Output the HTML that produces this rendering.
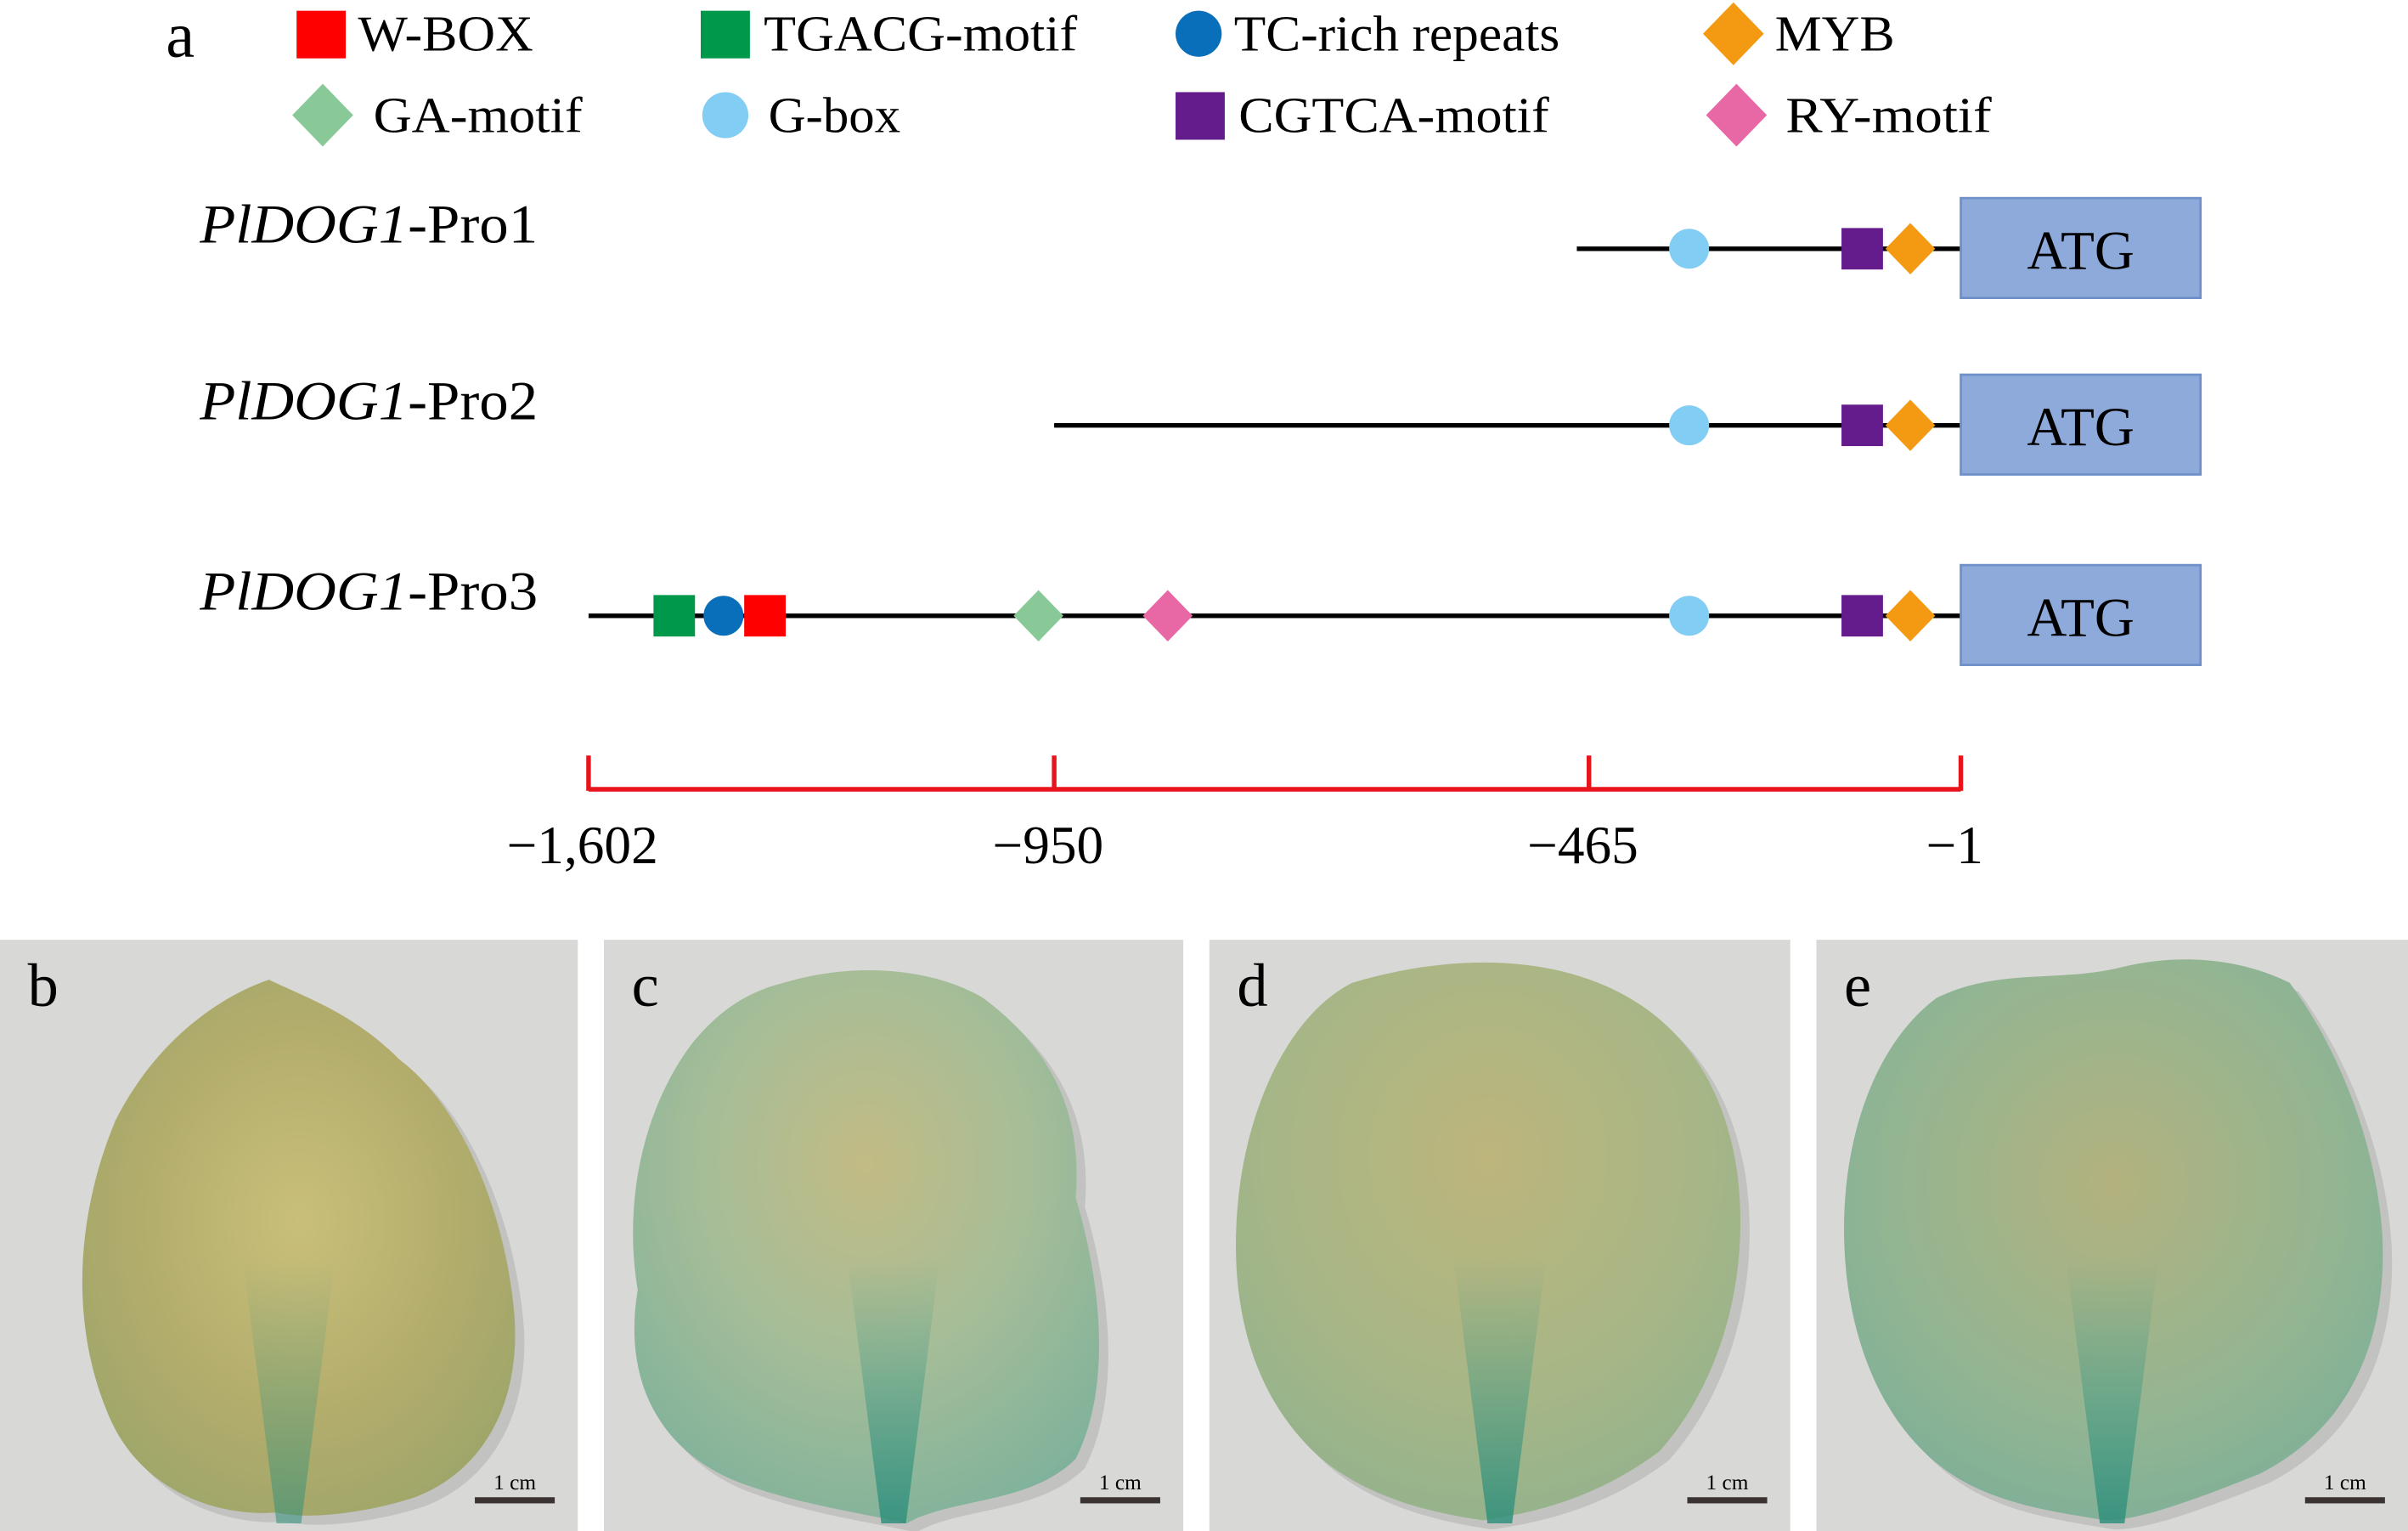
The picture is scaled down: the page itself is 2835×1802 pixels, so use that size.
<!DOCTYPE html>
<html><head><meta charset="utf-8"><style>
html,body{margin:0;padding:0;background:#fff}
svg{display:block}
text{font-family:"Liberation Serif",serif;fill:#000}
</style></head><body>
<svg id="fig" width="2835" height="1802" viewBox="0 0 1567 997" preserveAspectRatio="none">
<defs>
<radialGradient id="gb" cx="0.5" cy="0.45" r="0.6"><stop offset="0" stop-color="#c9bf7a"/><stop offset="0.6" stop-color="#b3ad6c"/><stop offset="1" stop-color="#9fa66a"/></radialGradient>
<radialGradient id="gc" cx="0.5" cy="0.35" r="0.7"><stop offset="0" stop-color="#c2bb84"/><stop offset="0.5" stop-color="#a6bd98"/><stop offset="1" stop-color="#7fb29b"/></radialGradient>
<radialGradient id="gd" cx="0.5" cy="0.35" r="0.7"><stop offset="0" stop-color="#bdb57c"/><stop offset="0.6" stop-color="#a7b686"/><stop offset="1" stop-color="#92b28e"/></radialGradient>
<radialGradient id="ge" cx="0.5" cy="0.4" r="0.7"><stop offset="0" stop-color="#b3b27e"/><stop offset="0.6" stop-color="#93b592"/><stop offset="1" stop-color="#78ae9a"/></radialGradient>
<linearGradient id="vein" x1="0" y1="0" x2="0" y2="1"><stop offset="0" stop-color="#3e9a86" stop-opacity="0"/><stop offset="1" stop-color="#2a8d7a" stop-opacity="0.9"/></linearGradient>
</defs>
<g id="chart"></g>
<g id="photos"></g>
</svg>
<script>
// ---- data ----
const axisTicks = [-1602, -950, -465, -1];
const tickLabels = ["\u22121,602", "\u2212950", "\u2212465", "\u22121"];
const promoterNames = ["Pro1", "Pro2", "Pro3"];
const promoterStarts = [-476, -950, -1602];
const motifTypes = ["G-box", "CGTCA-motif", "MYB", "TGACG-motif", "TC-rich repeats", "W-BOX", "GA-motif", "RY-motif"];
const pro1Motifs = [-340, -124, -64];
const pro2Motifs = [-340, -124, -64];
const pro3Motifs = [-340, -124, -64, -1482, -1413, -1355, -972, -847];
const legendNames = ["W-BOX","TGACG-motif","TC-rich repeats","MYB","GA-motif","G-box","CGTCA-motif","RY-motif"];

const NS = "http://www.w3.org/2000/svg";
const tickPx = [383, 686, 1034, 1276];
function xScale(bp){
  for(let i=0;i<axisTicks.length-1;i++){
    const a=axisTicks[i], b=axisTicks[i+1];
    if(bp<=b || i===axisTicks.length-2){
      return tickPx[i]+(bp-a)/(b-a)*(tickPx[i+1]-tickPx[i]);
    }
  }
}
const style = {
  "W-BOX":{shape:"sq",c:"#ff0000"},
  "TGACG-motif":{shape:"sq",c:"#00984a"},
  "TC-rich repeats":{shape:"ci",c:"#0a6fba"},
  "MYB":{shape:"di",c:"#f39a12"},
  "GA-motif":{shape:"di",c:"#88c997"},
  "G-box":{shape:"ci",c:"#82cdf3"},
  "CGTCA-motif":{shape:"sq",c:"#641c8c"},
  "RY-motif":{shape:"di",c:"#e867a5"}
};
function mk(tag, attrs, parent){
  const e=document.createElementNS(NS,tag);
  for(const k in attrs) e.setAttribute(k,attrs[k]);
  parent.appendChild(e); return e;
}
function marker(type, cx, cy, parent, s){
  const st=style[type]; let e;
  if(st.shape==="sq") e=mk("rect",{x:cx-s/2,y:cy-s/2,width:s,height:s,fill:st.c},parent);
  else if(st.shape==="ci") e=mk("ellipse",{cx:cx,cy:cy,rx:s/2,ry:s/2,fill:st.c},parent);
  else e=mk("polygon",{points:`${cx},${cy-s*0.62} ${cx+s*0.6},${cy} ${cx},${cy+s*0.62} ${cx-s*0.6},${cy}`,fill:st.c},parent);
  return e;
}
const chart=document.getElementById("chart");
const lab=mk("text",{x:108,y:37,"font-size":42},chart); lab.textContent="a";



// legend
const legPos=[[193,22],[456,22],[765,22],[1112,22],[193,75],[456,75],[765,75],[1112,75]];
const legWidths=[114,204,212,78,136,86,202,134];
legendNames.forEach((n,i)=>{
  const g=mk("g",{},chart);
  
  
  const [lx,ly]=legPos[i];
  const st=style[n];
  let cx = lx+16, tx = lx+40;
  if(i===4){cx=210; tx=243;}
  if(i===5){cx=472; tx=500;}
  if(i===7){cx=1130; tx=1162;}
  if(i===3){cx=1128; tx=1155;}
  if(i===2){cx=780; tx=803;}
  if(i===6){cx=781; tx=806;}
  if(i===1){tx=497;}
  if(st.shape==="sq") mk("rect",{x:cx-16,y:ly-15,width:32,height:31,fill:st.c},g);
  else marker(n,cx,ly,g,st.shape==="ci"?30:33);
  const t=mk("text",{x:tx,y:ly+11,"font-size":33,textLength:legWidths[i],lengthAdjust:"spacingAndGlyphs"},g); t.textContent=n;
});

// promoter rows
const rowsY=[162,277,401];
const motifLists=[pro1Motifs,pro2Motifs,pro3Motifs];
promoterNames.forEach((p,r)=>{
  const g=mk("g",{},chart);
  
  
  const y=rowsY[r];
  const t=mk("text",{x:130,y:y-4,"font-size":36,textLength:220,lengthAdjust:"spacingAndGlyphs"},g);
  const it=mk("tspan",{"font-style":"italic"},t); it.textContent="PlDOG1";
  const rt=mk("tspan",{},t); rt.textContent="-"+p;
  mk("line",{x1:xScale(promoterStarts[r]),x2:xScale(-1),y1:y,y2:y,stroke:"#000","stroke-width":3},g);
  motifLists[r].forEach((bp,k)=>{
    const m=marker(motifTypes[k],xScale(bp),y,g,style[motifTypes[k]].shape==="ci"?26:27);
    
    
  });
  const box=mk("rect",{x:1276,y:y-33,width:156,height:65,fill:"#8eaadb",stroke:"#6f8fc9","stroke-width":1.5},g);
  
  
  const at=mk("text",{x:1354,y:y+13,"font-size":36,"text-anchor":"middle"},g); at.textContent="ATG";
});

// scale axis
const ax=mk("g",{},chart);


mk("line",{x1:xScale(axisTicks[0]),x2:xScale(axisTicks[3]),y1:514,y2:514,stroke:"#e8141c","stroke-width":3},ax);
axisTicks.forEach((v,i)=>{
  mk("line",{x1:xScale(v),x2:xScale(v),y1:492,y2:515,stroke:"#e8141c","stroke-width":3},ax);
  const t=mk("text",{x:xScale(v)-4,y:562,"font-size":35,"text-anchor":"middle"},ax); t.textContent=tickLabels[i];
  
  
});

// photos
const photos=document.getElementById("photos");
const panels=[
 {l:"b",x:0,w:376,g:"gb",path:"M175,638 C200,650 230,660 260,690 C300,720 330,790 335,860 C338,920 310,960 270,975 C240,985 200,990 180,985 C140,988 90,970 70,920 C45,860 50,790 75,730 C100,680 140,650 175,638 Z"},
 {l:"c",x:393,w:377,g:"gc",path:"M510,640 C560,625 610,632 640,650 C680,680 705,720 700,780 C715,830 725,900 700,950 C670,980 620,975 590,992 C560,985 520,980 480,965 C430,945 405,900 415,840 C405,780 420,720 450,680 C470,655 490,645 510,640 Z"},
 {l:"d",x:787,w:378,g:"gd",path:"M880,640 C930,625 990,620 1040,640 C1090,660 1120,700 1130,760 C1140,830 1120,900 1080,945 C1040,975 1000,985 965,990 C930,985 890,975 860,950 C820,915 800,860 805,790 C810,720 840,660 880,640 Z"},
 {l:"e",x:1182,w:385,g:"ge",path:"M1260,650 C1300,630 1340,640 1380,630 C1420,620 1460,625 1490,640 C1520,680 1545,740 1550,800 C1555,870 1530,930 1470,960 C1420,980 1390,990 1370,990 C1340,985 1300,980 1270,960 C1225,930 1200,870 1200,800 C1200,740 1220,680 1260,650 Z"}
];
panels.forEach(p=>{
  const g=mk("g",{},photos);
  
  
  mk("rect",{x:p.x,y:612,width:p.w,height:385,fill:"#d8d8d6"},g);
  mk("path",{d:p.path,fill:"#9a9a98",opacity:0.35,transform:"translate(6,6)"},g);
  mk("path",{d:p.path,fill:"url(#"+p.g+")"},g);
  const cx=p.x+p.w/2;
  mk("path",{d:`M${cx-30},820 L${cx-8},992 L${cx+8},992 L${cx+30},820 Z`,fill:"url(#vein)",opacity:p.l==="b"?0.6:0.9},g);
  const t=mk("text",{x:p.x+18,y:655,"font-size":40},g); t.textContent=p.l;
  mk("rect",{x:p.x+p.w-67,y:975,width:52,height:4,fill:"#3b3331"},g);
  const s=mk("text",{x:p.x+p.w-41,y:970,"font-size":14,"text-anchor":"middle"},g); s.textContent="1 cm";
});
</script>
</body></html>
